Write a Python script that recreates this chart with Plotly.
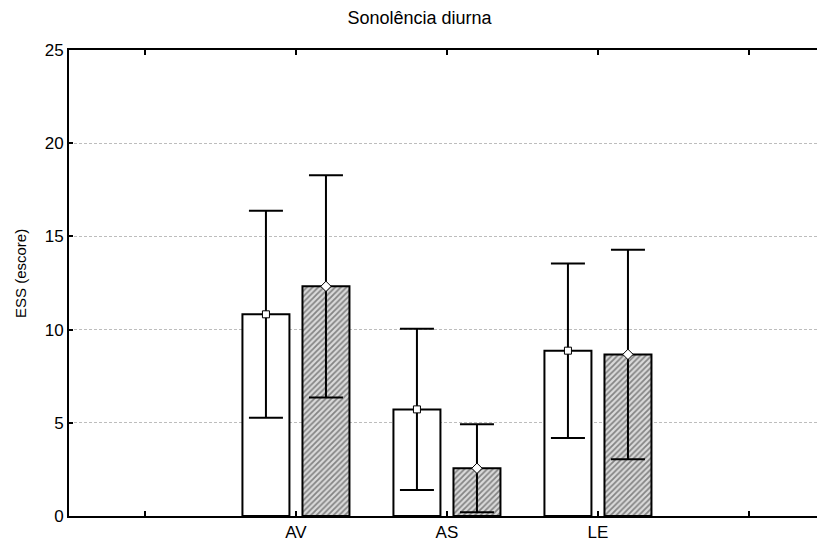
import plotly.graph_objects as go

categories = ["AV", "AS", "LE"]
axis_categories = [" ", "AV", "AS", "LE", "  "]
group1_mean = [10.82, 5.72, 8.87]
group1_err = [5.55, 4.32, 4.68]
group2_mean = [12.32, 2.56, 8.67]
group2_err = [5.96, 2.36, 5.62]
y_ticks = [0, 5, 10, 15, 20, 25]

font = "Liberation Sans, Arial, sans-serif"
W, H = 830, 542
L, T, B = 69, 50, 26
plot_w = W - L
plot_h = H - T - B

fig = go.Figure()
fig.add_trace(go.Bar(
    x=categories, y=group1_mean, offsetgroup="1",
    marker=dict(color="white", line=dict(color="black", width=2)),
    showlegend=False, hoverinfo="skip",
))
fig.add_trace(go.Bar(
    x=categories, y=group2_mean, offsetgroup="2",
    marker=dict(color="white", line=dict(color="black", width=2),
                pattern=dict(shape="/", fgcolor="#2e2e2e", bgcolor="#dadada",
                             size=4, solidity=0.45)),
    showlegend=False, hoverinfo="skip",
))
fig.add_trace(go.Scatter(
    x=categories, y=group1_mean, mode="markers", offsetgroup="1",
    marker=dict(symbol="square", size=7, color="white", line=dict(color="black", width=1)),
    error_y=dict(type="data", array=group1_err, color="black", thickness=2, width=17),
    showlegend=False, hoverinfo="skip",
))
fig.add_trace(go.Scatter(
    x=categories, y=group2_mean, mode="markers", offsetgroup="2",
    marker=dict(symbol="diamond", size=8, color="white", line=dict(color="black", width=1)),
    error_y=dict(type="data", array=group2_err, color="black", thickness=2, width=17),
    showlegend=False, hoverinfo="skip",
))

fig.update_layout(
    width=W, height=H,
    margin=dict(l=L, r=0, t=T, b=B, autoexpand=False),
    paper_bgcolor="white", plot_bgcolor="white",
    barmode="group", bargap=0.205, bargroupgap=0.217,
    scattermode="group", scattergap=0.205,
    title=dict(text="Sonolência diurna", x=419.5 / W, xanchor="center", xref="container",
               y=1 - 18 / H, yanchor="middle", yref="container", automargin=False,
               font=dict(family=font, size=18, color="black")),
    font=dict(family=font, size=17, color="black"),
    annotations=[dict(
        text="ESS (escore)", textangle=-90, showarrow=False,
        xref="paper", yref="paper",
        x=(20 - L) / plot_w, y=(516 - 273) / plot_h,
        xanchor="center", yanchor="middle",
        font=dict(family=font, size=15, color="black"),
    )],
)
fig.update_xaxes(
    type="category", categoryorder="array", categoryarray=axis_categories,
    range=[-0.503, -0.503 + plot_w / 151.0], automargin=False,
    tickmode="array", tickvals=axis_categories, ticktext=["", "AV", "AS", "LE", ""],
    showline=True, linecolor="black", linewidth=2, mirror="ticks",
    ticks="inside", ticklen=5, tickwidth=2, tickcolor="black",
    showgrid=False, tickfont=dict(family=font, size=17),
)
fig.update_yaxes(
    range=[0, 25], tickvals=y_ticks, automargin=False, mirror=False,
    showline=True, linecolor="black", linewidth=2,
    ticks="inside", ticklen=4, tickwidth=2, tickcolor="black",
    showgrid=True, gridcolor="#bdbdbd", griddash="3px,2px", gridwidth=1,
    zeroline=False, tickfont=dict(family=font, size=17),
)

fig.write_html(
    "out.html",
    config={"displayModeBar": False},
    post_script=(
        "document.body.style.margin='0';document.body.style.overflow='hidden';"
        "document.documentElement.style.overflow='hidden';"
    ),
)
